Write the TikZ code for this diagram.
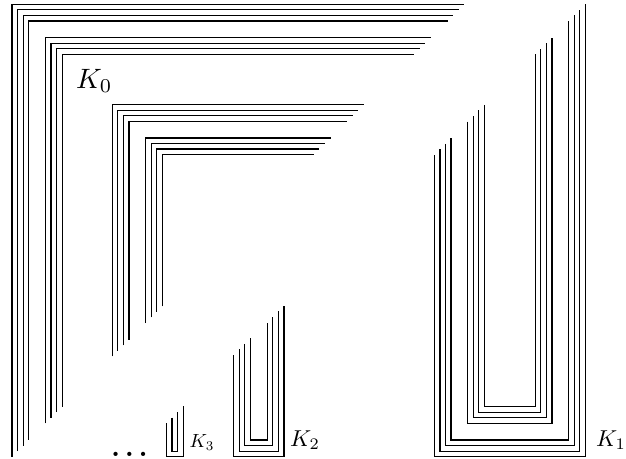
\documentclass[tikz,border=0pt]{standalone}

\newcommand{\gap}{5.57}
\tikzstyle{strand}=[line width=1.25pt]
\tikzstyle{every node}=[anchor=base west, inner sep=0pt]

\begin{document}
\begin{tikzpicture}[x=1pt, y=-1pt]
    \useasboundingbox (0,0) rectangle (626,458);

    % K_0: nested corners
    \foreach \i in {0,1,2,3,6,7,8,9,18,19,20,21,24,25,26,27}
        \draw [strand] ({12+\i*\gap},{456.7-\i*\gap}) |- ({464.3-\i*\gap},{4.3+\i*\gap});

    % K_1
    \foreach \i in {0,1,2,3,6,7,8,9}
        \draw [strand] ({434.3+\i*\gap},{155-\i*\gap}) |- ({585.3-\i*\gap},{456.7-\i*\gap})
            -- ({585.3-\i*\gap},{4.3+\i*\gap});

    % K_2
    \foreach \i in {0,...,3}
        \draw [strand] ({233.7+\i*\gap},{355-\i*\gap}) |- ({284-\i*\gap},{456.7-\i*\gap})
            -- ({284-\i*\gap},{305.9+\i*\gap});

    % K_3
    \foreach \i in {0,1}
        \draw [strand] ({166.5+\i*\gap},{423.2-\i*\gap}) |- ({183.3-\i*\gap},{456.7-\i*\gap})
            -- ({183.3-\i*\gap},{406.4+\i*\gap});

    \node (k0) at (76,88) {\scalebox{2.8}{$K_0$}};
    \node (k1) at (596,446) {\scalebox{2.3}{$K_1$}};
    \node (k2) at (290,446) {\scalebox{2.3}{$K_2$}};
    \node (k3) at (189.5,447.5) {\scalebox{1.9}{$K_3$}};
    \node [anchor=base] (dots) at (129.5,456.3) {\scalebox{2.7}{\boldmath$\dots$}};
\end{tikzpicture}
\end{document}
